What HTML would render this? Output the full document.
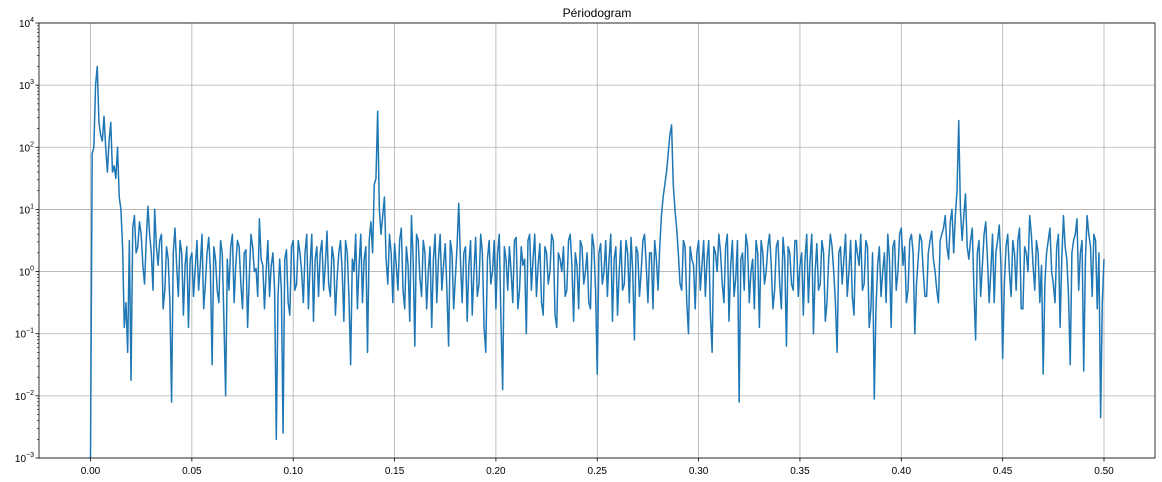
<!DOCTYPE html>
<html><head><meta charset="utf-8"><style>
html,body{margin:0;padding:0;background:#fff;}
svg{display:block;font-family:"Liberation Sans","DejaVu Sans",sans-serif;}
</style></head><body>
<svg id="chart" width="1162" height="482"></svg>
<script>
const xTicks=[0,0.05,0.1,0.15,0.2,0.25,0.3,0.35,0.4,0.45,0.5];
const xTickLabels=["0.00","0.05","0.10","0.15","0.20","0.25","0.30","0.35","0.40","0.45","0.50"];
const yExps=[-3,-2,-1,0,1,2,3,4];
const freqStep=1/600;
const logPower=[
-3,2.0,3.3,2.2,2.5,1.6,2.4,1.7,2.0,1.0,-0.9,-1.3,-1.75,0.9,0.4,0.6,-0.2,1.05,0.3,1.0,
0.1,0.6,-0.3,0.2,-2.1,0.7,-0.4,0.3,0.1,-0.9,0.3,0.05,-0.3,0.6,-0.2,0.55,-1.5,0.2,-0.5,0.3,
-2.0,-0.3,0.6,0.1,0.4,-0.6,0.35,-0.1,0.4,0.05,0.85,0.1,0.0,-0.4,0.3,-2.7,0.2,-2.6,0.35,-0.7,
0.5,-0.2,0.3,-0.5,0.6,0.1,-0.8,0.4,0.3,-0.3,0.65,-0.4,0.2,-0.1,0.5,-0.8,0.3,-1.5,0.0,-0.6,
0.6,0.2,-1.3,0.8,1.4,2.58,0.6,1.2,-0.2,0.3,0.45,-0.3,0.7,-0.6,0.1,0.9,-1.2,0.5,-0.4,0.3,
0.0,-0.9,0.6,0.2,-0.3,0.45,-1.2,0.3,-0.1,1.1,-0.5,0.4,0.1,-0.7,0.55,-0.2,0.3,-1.3,0.5,0.0,
-0.6,0.6,-1.9,0.2,0.4,-0.5,0.55,-0.3,0.1,-1.0,0.6,0.2,-0.4,0.45,-0.7,0.3,0.0,0.5,-0.9,0.2,
0.4,-0.3,0.6,-0.8,0.1,0.5,-0.2,0.3,-0.6,0.4,-1.65,0.45,0.0,-0.4,0.6,0.2,-0.7,0.5,-0.2,0.3,
0.55,-1.1,0.3,0.0,0.6,-0.5,0.3,0.5,-0.3,0.9,1.4,1.9,2.36,1.0,0.3,-0.3,0.4,-1.0,0.2,-0.6,
0.5,0.1,-0.4,0.5,-1.3,0.3,0.6,-0.2,0.4,-0.8,0.5,-0.1,-2.1,0.3,0.6,-0.5,0.2,0.5,-0.9,0.3,
0.0,0.6,-0.6,0.4,-0.2,0.55,-1.2,0.3,-0.3,0.5,0.1,-0.7,0.6,0.2,-1.0,0.45,-0.2,0.3,-0.5,0.6,
0.0,-1.3,0.4,0.2,-0.4,0.5,-0.7,0.3,0.6,-0.2,0.4,-0.6,-2.05,0.1,-0.4,0.3,0.6,-0.9,0.5,0.0,
0.7,0.4,-0.3,0.6,-1.0,0.2,0.5,-0.4,0.3,0.65,0.0,-0.5,0.6,0.9,0.2,1.0,0.9,2.43,0.5,1.25,
0.2,0.7,-1.1,0.5,0.1,0.8,-0.5,0.6,0.3,0.75,-1.4,0.4,0.0,0.5,-0.3,0.7,-0.6,0.3,0.9,0.1,
0.5,-0.5,-1.65,0.3,0.7,-0.2,0.4,-0.9,0.9,0.2,-1.5,0.5,0.85,0.3,-1.6,0.9,0.4,0.6,-0.6,-2.35,0.2
];
const logPowerMid=[
1.9,3.0,2.4,2.1,2.0,2.1,1.6,1.5,1.2,0.4,-0.5,0.5,0.7,0.3,0.8,0.1,0.5,0.6,-0.3,0.4,
0.5,-0.6,0.4,-0.5,0.3,0.1,0.5,-0.7,0.4,0.2,-0.4,0.5,0.1,-0.6,0.3,0.0,0.4,-0.3,0.5,-0.8,
0.2,0.4,-0.5,0.5,-0.2,0.3,-0.9,0.6,0.0,-0.4,0.2,-0.6,0.5,0.1,-0.3,-0.4,-0.3,0.2,-0.5,0.4,
-0.3,0.5,0.0,0.3,-0.6,0.6,0.2,-0.4,0.5,0.1,-0.2,0.4,-0.7,0.3,0.0,0.5,-0.4,0.2,0.6,0.1,
-0.5,0.4,0.5,0.3,1.5,1.0,0.9,0.2,0.6,-0.5,0.1,0.5,-0.3,0.4,-0.8,0.2,0.6,-0.1,0.5,-0.6,
0.4,0.2,-0.5,0.6,0.1,-0.3,0.5,-0.6,0.4,0.2,0.3,-0.8,0.5,0.0,-0.4,0.6,-0.9,0.2,-0.2,0.5,
0.3,-0.8,0.4,-0.3,0.0,0.5,-0.6,0.4,0.2,0.5,-0.3,0.6,0.1,-0.5,0.4,-0.2,0.6,-0.7,0.3,0.0,
-0.4,0.5,0.1,0.3,-0.6,0.4,0.0,-0.5,0.6,-0.3,0.3,-0.2,0.5,0.2,-0.8,0.4,0.0,-0.3,0.5,-0.5,
0.0,0.4,-0.4,0.5,0.1,0.3,-0.6,0.2,0.4,1.2,1.6,2.2,1.4,0.7,-0.2,0.5,-0.5,0.4,0.1,0.3,
-0.3,0.5,0.2,-0.7,0.4,0.0,0.3,-0.5,0.6,0.1,-0.4,0.5,0.2,-0.3,0.4,0.0,-0.6,0.3,0.5,-0.2,
0.4,0.1,-0.3,0.5,-0.6,0.2,0.4,-0.2,0.5,-0.4,0.3,0.2,-0.5,0.6,0.0,-0.3,0.5,-0.8,0.2,0.4,
-0.5,0.3,-0.2,0.6,0.0,-0.4,0.5,0.1,-0.3,0.5,-0.9,0.3,-0.6,0.4,0.0,-0.5,0.2,0.4,-0.3,0.6,
0.1,-0.5,0.5,0.3,-0.2,0.6,0.0,-0.4,0.5,0.2,-0.3,0.5,0.7,0.4,0.8,0.3,1.3,1.0,0.9,0.4,
0.5,-0.3,0.3,-0.4,0.6,0.2,0.0,-0.5,0.5,0.1,-0.2,0.6,-0.4,0.3,0.5,-0.6,0.4,0.0,0.6,-0.3,
0.3,0.1,-0.2,0.5,0.0,-0.5,0.6,0.2,0.4,-0.4,0.3,0.6,-0.3,0.5,0.2,0.6,-0.4,0.5,0.3,-0.5
];
const NS="http://www.w3.org/2000/svg";
const svg=document.getElementById('chart');
const L=39,R=1155,T=23,B=458;
const x0=90.5,xs=2027;
function X(v){return x0+v*xs;}
function Y(e){return B-(e+3)*(B-T)/7;}
function mk(tag,attrs,parent){const el=document.createElementNS(NS,tag);for(const k in attrs)el.setAttribute(k,attrs[k]);(parent||svg).appendChild(el);return el;}
const grid=mk('g',{});


xTicks.forEach(t=>{const l=mk('line',{x1:X(t),x2:X(t),y1:T,y2:B,stroke:'#b0b0b0','stroke-width':0.8},grid);

});
yExps.forEach(e=>{const l=mk('line',{x1:L,x2:R,y1:Y(e),y2:Y(e),stroke:'#b0b0b0','stroke-width':0.8},grid);

});
// series: interleave main and mid samples
const pts=[];
logPower.forEach((v,i)=>{pts.push([i*freqStep,v]);if(i<logPowerMid.length)pts.push([(i+0.5)*freqStep,logPowerMid[i]]);});
let d='';
pts.forEach((p,i)=>{d+=(i?'L':'M')+X(p[0]).toFixed(2)+','+Y(p[1]).toFixed(2);});
const clip=mk('clipPath',{id:'c'});mk('rect',{x:L,y:T,width:R-L,height:B-T},clip);
const line=mk('path',{d:d,fill:'none',stroke:'#1f77b4','stroke-width':1.5,'stroke-linejoin':'round','clip-path':'url(#c)'});


const frame=mk('rect',{x:L,y:T,width:R-L,height:B-T,fill:'none',stroke:'#000','stroke-width':0.8});


xTicks.forEach((t,i)=>{mk('line',{x1:X(t),x2:X(t),y1:B,y2:B+3.5,stroke:'#000','stroke-width':0.8});
const tx=mk('text',{x:X(t),y:B+16,'font-size':10,'text-anchor':'middle',fill:'#000'});tx.textContent=xTickLabels[i];

});
yExps.forEach(e=>{mk('line',{x1:L-3.5,x2:L,y1:Y(e),y2:Y(e),stroke:'#000','stroke-width':0.8});
if(e<4){for(let k=2;k<10;k++){const yy=Y(e+Math.log10(k));mk('line',{x1:L-2,x2:L,y1:yy,y2:yy,stroke:'#000','stroke-width':0.6});}}
const tx=mk('text',{x:L-5,y:Y(e)+4,'font-size':10,'text-anchor':'end',fill:'#000'});


const a=mk('tspan',{},tx);a.textContent='10';
const b=mk('tspan',{dy:-5,'font-size':7},tx);b.textContent=(e<0?'\u2212':'')+Math.abs(e);});
const title=mk('text',{x:(L+R)/2,y:17,'font-size':12,'text-anchor':'middle',fill:'#000'});
title.textContent='Périodogram';


</script>
</body></html>
